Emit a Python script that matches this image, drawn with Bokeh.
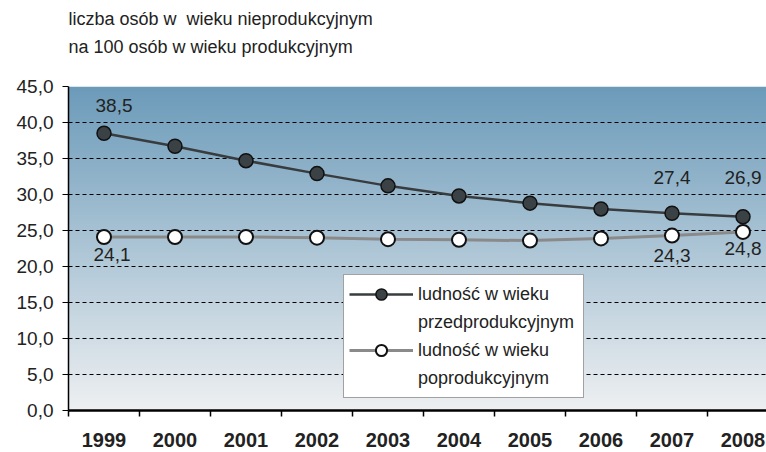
import numpy as np
from bokeh.plotting import figure
from bokeh.models import FixedTicker, Legend, LegendItem, Title
from bokeh.core.properties import value
from bokeh.embed import file_html
from bokeh.resources import INLINE

# ---- data ----
years = ["1999", "2000", "2001", "2002", "2003", "2004", "2005", "2006", "2007", "2008"]
przed = [38.5, 36.7, 34.7, 32.9, 31.2, 29.8, 28.8, 28.0, 27.4, 26.9]
popro = [24.1, 24.1, 24.1, 24.0, 23.8, 23.7, 23.6, 23.9, 24.3, 24.8]
y_ticks = [0, 5, 10, 15, 20, 25, 30, 35, 40, 45]
y_tick_labels = ["0,0", "5,0", "10,0", "15,0", "20,0", "25,0", "30,0", "35,0", "40,0", "45,0"]
series_przed_name = ["ludność w wieku", "przedprodukcyjnym"]
series_popro_name = ["ludność w wieku", "poprodukcyjnym"]
title_lines = ["liczba osób w\u00a0 wieku nieprodukcyjnym", "na 100 osób w wieku produkcyjnym"]
labeled_idx = [0, 8, 9]

# ---- styling / positions ----
FONT = "Liberation Sans"
TXT = "#222222"
label_x_off = [10, 0, 0, 8, 0, 0]
label_y_off = [-28, -36, -39, 18, 20, 17]

idx = list(range(len(years)))

p = figure(width=766, height=452, x_range=(-0.5, 9.331), y_range=(0, 45),
           output_backend="svg", toolbar_location=None,
           min_border_left=68, min_border_right=0, min_border_top=0, min_border_bottom=42)
p.outline_line_color = None
p.background_fill_color = "white"
p.border_fill_color = "white"

# gradient background of plot area
n = 256
t = np.linspace(0.0, 1.0, n)
bottom_c = np.array([238, 240, 242])
top_c = np.array([108, 155, 186])
img = np.empty((n, 1), dtype=np.uint32)
view = img.view(dtype=np.uint8).reshape((n, 1, 4))
for k in range(3):
    view[:, 0, k] = (bottom_c[k] + (top_c[k] - bottom_c[k]) * t).astype(np.uint8)
view[:, 0, 3] = 255
p.image_rgba(image=[img], x=-0.5, y=0, dw=10, dh=45, level="image")

# grid
p.xgrid.visible = False
p.ygrid.grid_line_color = "black"
p.ygrid.grid_line_dash = "4 3"
p.ygrid.grid_line_width = 1.2

# y axis
p.yaxis.ticker = FixedTicker(ticks=y_ticks)
p.yaxis.major_label_overrides = {float(v): s for v, s in zip(y_ticks, y_tick_labels)}
p.yaxis.axis_line_color = "black"
p.yaxis.axis_line_width = 1.5
p.yaxis.major_tick_line_color = "black"
p.yaxis.major_tick_out = 6
p.yaxis.major_tick_in = 0
p.yaxis.minor_tick_line_color = None
p.yaxis.major_label_standoff = 9
p.yaxis.major_label_text_font = FONT
p.yaxis.major_label_text_font_size = "19px"
p.yaxis.major_label_text_color = TXT

# x axis
p.xaxis.ticker = FixedTicker(ticks=idx, minor_ticks=[i - 0.5 for i in range(len(years) + 1)])
p.xaxis.major_label_overrides = {float(i): y for i, y in zip(idx, years)}
p.xaxis.axis_line_color = "black"
p.xaxis.axis_line_width = 2.5
p.xaxis.major_tick_line_color = None
p.xaxis.major_tick_out = 6
p.xaxis.major_tick_in = 0
p.xaxis.minor_tick_line_color = "black"
p.xaxis.minor_tick_line_width = 1.5
p.xaxis.minor_tick_out = 6
p.xaxis.minor_tick_in = 0
p.xaxis.major_label_standoff = 16
p.xaxis.major_label_text_font = FONT
p.xaxis.major_label_text_font_size = "20px"
p.xaxis.major_label_text_font_style = "bold"
p.xaxis.major_label_text_color = TXT

# series
r2l = p.line(x=idx, y=popro, line_color="#8a8a8a", line_width=3)
r2s = p.scatter(x=idx, y=popro, size=14, fill_color="white", line_color="#111111", line_width=2)
r1l = p.line(x=idx, y=przed, line_color="#383c3e", line_width=2.5)
r1s = p.scatter(x=idx, y=przed, size=14, fill_color="#3b4245", line_color="#111111", line_width=1.5)
# invisible renderer used for the second (text-only) line of each legend entry
blank = p.line(x=[], y=[], line_alpha=0)

# data labels
def fmt(v):
    return f"{v:.1f}".replace(".", ",")

lab_x = labeled_idx + labeled_idx
lab_y = [przed[i] for i in labeled_idx] + [popro[i] for i in labeled_idx]
lab_t = [fmt(v) for v in lab_y]
p.text(x=lab_x, y=lab_y, text=lab_t, x_offset=label_x_off, y_offset=label_y_off,
       text_font=value(FONT), text_font_size=value("19px"), text_color=TXT,
       text_align="center", text_baseline="middle")

# legend
legend = Legend(items=[LegendItem(label=series_przed_name[0], renderers=[r1l, r1s]),
                       LegendItem(label=series_przed_name[1], renderers=[blank]),
                       LegendItem(label=series_popro_name[0], renderers=[r2l, r2s]),
                       LegendItem(label=series_popro_name[1], renderers=[blank])],
                location=(275, 12))
legend.border_line_color = "#444444"
legend.border_line_width = 1
legend.background_fill_color = "white"
legend.background_fill_alpha = 1.0
legend.label_text_font = FONT
legend.label_text_font_size = "18px"
legend.label_text_color = TXT
legend.glyph_width = 64
legend.glyph_height = 28
legend.label_height = 20
legend.label_width = 160
legend.label_standoff = 5
legend.padding = 5
legend.spacing = 0
legend.margin = 0
p.add_layout(legend)

# two-line heading: spacer (next to frame), second line, first line (outermost)
spacer = Title(text="\u00a0", align="left", text_font=FONT, text_font_size="18px",
               text_color="white", standoff=8)
p.add_layout(spacer, "above")
t2 = Title(text=title_lines[1], align="left", text_font=FONT, text_font_size="18px",
           text_font_style="normal", text_color=TXT, standoff=0)
p.add_layout(t2, "above")
p.title.text = title_lines[0]
p.title.align = "left"
p.title.text_font = FONT
p.title.text_font_size = "18px"
p.title.text_font_style = "normal"
p.title.text_color = TXT
p.title.standoff = 12

open("out.html", "w").write(file_html(p, INLINE))
